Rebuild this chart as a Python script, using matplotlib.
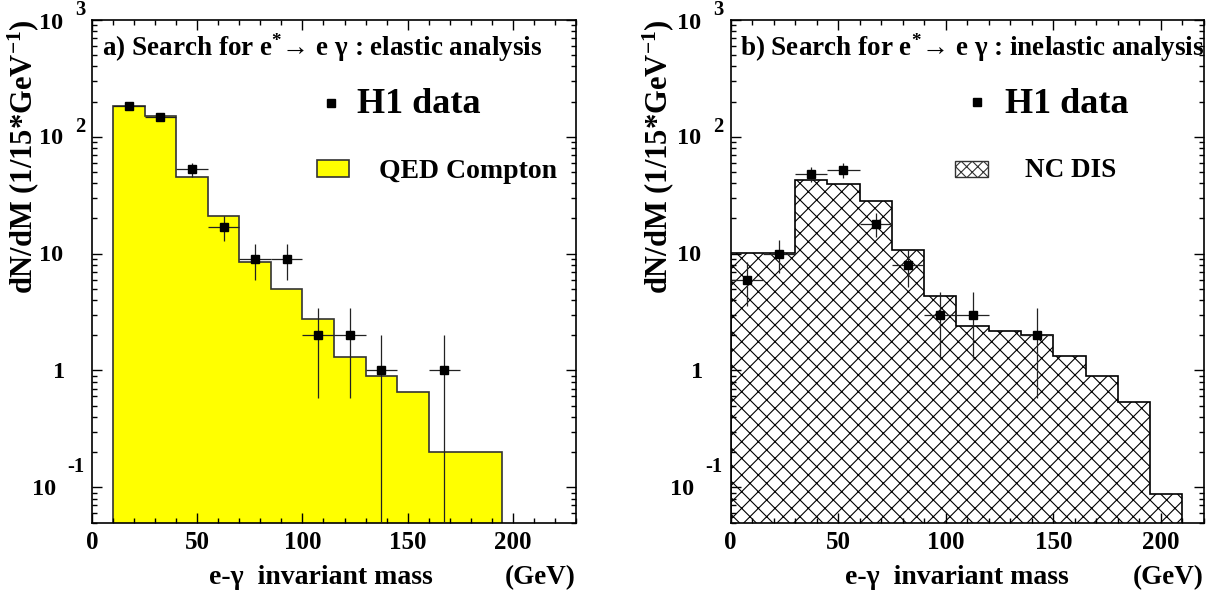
import numpy as np
import matplotlib
matplotlib.use("Agg")
import matplotlib.pyplot as plt
from matplotlib.patches import Rectangle
from matplotlib.ticker import MultipleLocator, LogLocator, NullFormatter

# ---------------- data ----------------
left_edges = [10, 25, 40, 55, 70, 85, 100, 115, 130, 145, 160, 195]
left_mc = [183, 150, 45, 21, 8.5, 5.0, 2.75, 1.3, 0.9, 0.66, 0.2]
left_x = [17.5, 32.5, 47.5, 62.5, 77.5, 92.5, 107.5, 122.5, 137.5, 167.5]
left_n = [185, 148, 53, 17, 9, 9, 2, 2, 1, 1]

right_edges = [0, 15, 30, 45, 60, 75, 90, 105, 120, 135, 150, 165, 180, 195, 210]
right_mc = [10.1, 10.1, 42.5, 39.8, 28.1, 10.8, 4.35, 2.42, 2.18, 2.01, 1.34, 0.90, 0.54, 0.088]
right_x = [7.5, 22.5, 37.5, 52.5, 67.5, 82.5, 97.5, 112.5, 142.5]
right_n = [6, 10, 48, 52, 18, 8, 3, 3, 2]

bin_halfwidth = 7.5
titles = ["a) Search for e$^{*}$\u2192 e \u03b3 : elastic analysis",
          "b) Search for e$^{*}$\u2192 e \u03b3 : inelastic analysis"]
mc_labels = ["QED Compton", "NC DIS"]
data_label = "H1 data"
ylabel = "dN/dM (1/15*GeV$^{-1}$)"
xlabel = "e-\u03b3  invariant mass"
xunit = "(GeV)"
ytick_vals = [1000, 100, 10, 1, 0.1]

# ---------------- style ----------------
FONT = "Liberation Serif"
plt.rcParams["font.family"] = [FONT, "DejaVu Serif"]
plt.rcParams["font.weight"] = "bold"
plt.rcParams["mathtext.fontset"] = "custom"
plt.rcParams["mathtext.rm"] = FONT + ":bold"
plt.rcParams["mathtext.it"] = FONT + ":bold"
plt.rcParams["mathtext.bf"] = FONT + ":bold"
plt.rcParams["hatch.linewidth"] = 0.8

W, H = 1215, 592
fig = plt.figure(figsize=(W / 100, H / 100), dpi=100)

def px_rect(x0, x1, ytop, ybot):
    return [x0 / W, 1 - ybot / H, (x1 - x0) / W, (ybot - ytop) / H]

axL = fig.add_axes(px_rect(92, 576, 20, 522.5))
axR = fig.add_axes(px_rect(730.5, 1204, 20, 522.5))

FS = 19.5
TFS = 18
YFS = 17.5

def style_axes(ax, xmax):
    ax.set_yscale("log")
    ax.set_xlim(0, xmax)
    ax.set_ylim(0.05, 1000)
    for s in ax.spines.values():
        s.set_linewidth(1.2)
    ax.xaxis.set_major_locator(MultipleLocator(50))
    ax.xaxis.set_minor_locator(MultipleLocator(10))
    ax.yaxis.set_major_locator(LogLocator(base=10, numticks=10))
    ax.yaxis.set_minor_locator(LogLocator(base=10, subs=np.arange(2, 10), numticks=20))
    ax.yaxis.set_major_formatter(NullFormatter())
    ax.yaxis.set_minor_formatter(NullFormatter())
    ax.tick_params(which="both", direction="in", top=True, right=True, width=1.0)
    ax.tick_params(which="major", length=7)
    ax.tick_params(which="minor", length=3.5)
    ax.tick_params(axis="x", which="major", labelsize=TFS, pad=6)
    for lab in ax.get_xticklabels():
        lab.set_fontweight("bold")
    # custom ROOT-like y tick labels
    for v in ytick_vals:
        e = int(round(np.log10(v)))
        if e == 0:
            ax.annotate("1", xy=(0, v), xycoords=("axes fraction", "data"),
                        xytext=(-27, -2), textcoords="offset pixels",
                        ha="right", va="center", fontsize=YFS, fontweight="bold")
        elif e == 1:
            ax.annotate("10", xy=(0, v), xycoords=("axes fraction", "data"),
                        xytext=(-29, -2), textcoords="offset pixels",
                        ha="right", va="center", fontsize=YFS, fontweight="bold")
        else:
            dxb = -29 if e > 0 else -36
            dxe = -17 if e > 0 else -25
            dye = 10 if e > 0 else 20
            dyb = -4 if e == 3 else -2
            ax.annotate("10", xy=(0, v), xycoords=("axes fraction", "data"),
                        xytext=(dxb, dyb), textcoords="offset pixels",
                        ha="right", va="center", fontsize=YFS, fontweight="bold")
            ax.annotate(str(e), xy=(0, v), xycoords=("axes fraction", "data"),
                        xytext=(dxe, dye), textcoords="offset pixels",
                        ha="left", va="center", fontsize=YFS * 0.85, fontweight="bold")

style_axes(axL, 230)
style_axes(axR, 220)

# ---------------- histograms ----------------
axL.stairs(left_mc, left_edges, baseline=1e-3, fill=True,
           facecolor="#ffff00", edgecolor="#333333", linewidth=1.2, zorder=1)
axR.stairs(right_mc, right_edges, baseline=1e-3, fill=True,
           facecolor="white", edgecolor="black", hatch="xx", linewidth=1.2, zorder=1)

# ---------------- data points ----------------
def draw_data(ax, xs, ns):
    xs = np.asarray(xs, float)
    ns = np.asarray(ns, float)
    err = np.sqrt(ns)
    lo = np.where(ns - err > 0, err, ns - 1e-4)
    ax.errorbar(xs, ns, yerr=[lo, err], xerr=bin_halfwidth, fmt="s",
                color="black", ecolor="#222222", elinewidth=0.9,
                markersize=6.3, capsize=0, zorder=3)

draw_data(axL, left_x, left_n)
draw_data(axR, right_x, right_n)

# ---------------- titles / legends ----------------
for ax, t in zip([axL, axR], titles):
    ax.text(0.02, 0.929, t, transform=ax.transAxes, fontsize=FS,
            fontweight="bold", ha="left", va="baseline", zorder=5)

# legend left
axL.plot([0.493], [0.834], "s", color="black", markersize=5.5, transform=axL.transAxes, clip_on=False)
axL.text(0.547, 0.814, data_label, transform=axL.transAxes, fontsize=26,
         fontweight="bold", ha="left", va="baseline")
axL.add_patch(Rectangle((0.4655, 0.688), 0.0661, 0.0332, transform=axL.transAxes,
                        facecolor="#ffff00", edgecolor="#333333", linewidth=1.2))
axL.text(0.592, 0.6864, mc_labels[0], transform=axL.transAxes, fontsize=20,
         fontweight="bold", ha="left", va="baseline")

# legend right
axR.plot([0.521], [0.837], "s", color="black", markersize=5.5, transform=axR.transAxes, clip_on=False)
axR.text(0.579, 0.815, data_label, transform=axR.transAxes, fontsize=26,
         fontweight="bold", ha="left", va="baseline")
axR.add_patch(Rectangle((0.474, 0.688), 0.0697, 0.0318, transform=axR.transAxes,
                        facecolor="white", edgecolor="#333333", hatch="xxx", linewidth=1.0))
axR.text(0.621, 0.687, mc_labels[1], transform=axR.transAxes, fontsize=FS,
         fontweight="bold", ha="left", va="baseline")

# ---------------- axis labels ----------------
for ax, dx in [(axL, -60), (axR, -63)]:
    ax.annotate(ylabel, xy=(0, 1), xycoords="axes fraction",
                xytext=(dx, 0), textcoords="offset pixels",
                rotation=90, rotation_mode="anchor", ha="right", va="baseline",
                fontsize=22, fontweight="bold")
    ax.text(0.242, -0.085, xlabel, transform=ax.transAxes, ha="left", va="top",
            fontsize=20, fontweight="bold")
    ax.text(1.0, -0.085, xunit, transform=ax.transAxes, ha="right", va="top",
            fontsize=FS, fontweight="bold")

fig.savefig("out.png", dpi=100)
